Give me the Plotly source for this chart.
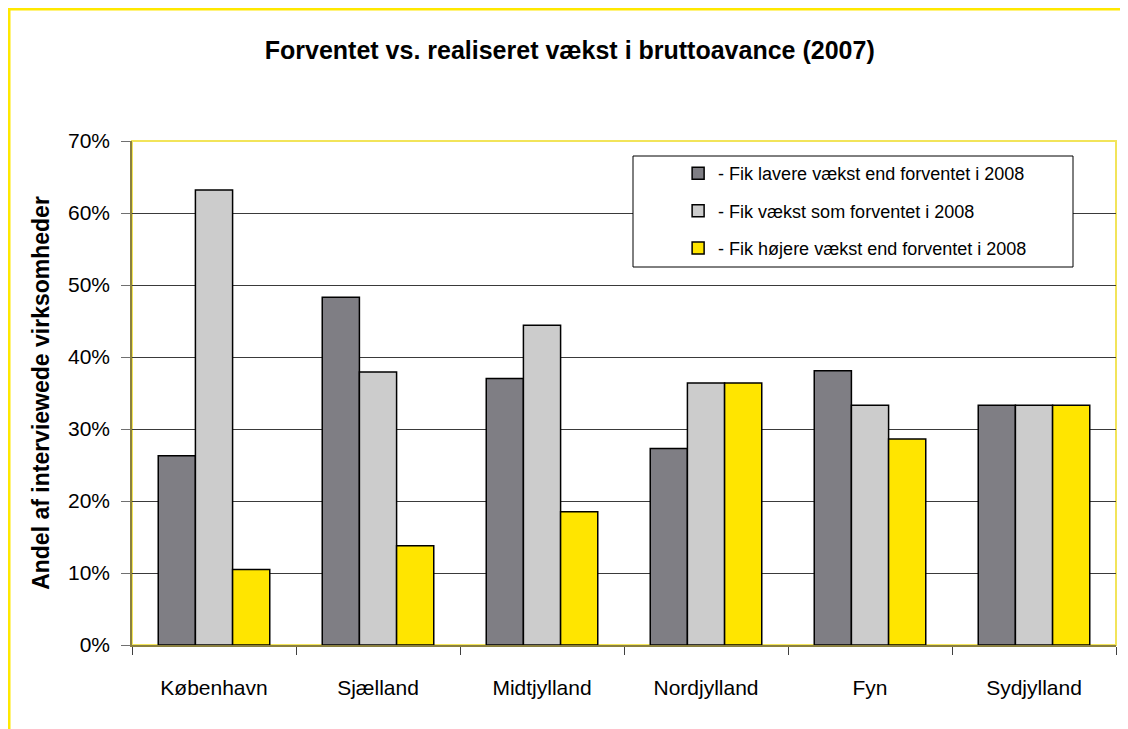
import plotly.graph_objects as go

# data (share in %)
regions = ['København', 'Sjælland', 'Midtjylland', 'Nordjylland', 'Fyn', 'Sydjylland']
lavere = [26.3, 48.3, 37.0, 27.3, 38.1, 33.3]
som_forventet = [63.2, 37.9, 44.4, 36.4, 33.3, 33.3]
hojere = [10.5, 13.8, 18.5, 36.4, 28.6, 33.3]
series_names = ['- Fik lavere vækst end forventet i 2008',
                '- Fik vækst som forventet i 2008',
                '- Fik højere vækst end forventet i 2008']
y_ticks = [0, 10, 20, 30, 40, 50, 60, 70]

colors = ['#7F7E84', '#CCCCCC', '#FFE500']
sans = 'Liberation Sans, Arial'

# plot area in figure pixels: l=124, r=20, t=133, b=92 -> 984 x 504
L, T, PW, PH = 124, 133, 984, 504

def px(x):  # figure pixel -> paper x
    return (x - L) / PW

def py(y):  # figure pixel -> paper y
    return (T + PH - y) / PH

fig = go.Figure()
for name, vals, col in zip(series_names, [lavere, som_forventet, hojere], colors):
    fig.add_trace(go.Bar(
        x=regions, y=vals, name=name, legendgroup=name,
        marker=dict(color=col, line=dict(color='black', width=1.5)),
    ))

fig.update_layout(
    width=1128, height=729,
    margin=dict(l=124, r=20, t=133, b=92),
    paper_bgcolor='white', plot_bgcolor='white',
    barmode='group', bargap=0.32, bargroupgap=0,
    title=dict(text='<b>Forventet vs. realiseret vækst i bruttoavance (2007)</b>',
               font=dict(family=sans, size=25, color='black'),
               x=0.498, xref='container', xanchor='center',
               y=1 - 42 / 729, yref='container', yanchor='middle'),
    legend=dict(x=0.555, y=0.972, xanchor='left', yanchor='top',
                bgcolor='rgba(0,0,0,0)', borderwidth=0,
                font=dict(family=sans, size=18, color='black'),
                tracegroupgap=11),
    showlegend=True,
)

fig.update_yaxes(
    range=[0, 70], tickvals=y_ticks, ticktext=[f'{v}%' for v in y_ticks],
    showgrid=True, gridcolor='#3A3A3A', gridwidth=1, zeroline=False,
    showline=True, linecolor='#8A8040', linewidth=1.5,
    ticks='outside', ticklen=9, tickcolor='#707070',
    tickfont=dict(family=sans, size=21, color='black'),
    ticklabelstandoff=7,
    title=dict(text='<b>Andel af interviewede virksomheder</b>',
               font=dict(family=sans, size=23, color='black'),
               standoff=12),
)
fig.update_xaxes(
    showline=True, linecolor='#8A8040', linewidth=1.5,
    ticks='outside', tickson='boundaries', ticklen=8, tickcolor='#404040',
    tickfont=dict(family=sans, size=21, color='black'),
    ticklabelstandoff=23,
)

# yellow plot-area border and outer chart frame
fig.add_shape(type='rect', xref='paper', yref='paper', x0=0, x1=1, y0=0, y1=1,
              line=dict(color='#F2E45A', width=2), layer='below')
fig.add_shape(type='rect', xref='paper', yref='paper',
              x0=px(1), x1=px(1135), y0=py(760), y1=py(1),
              line=dict(color='#FFE800', width=3))
# legend box
fig.add_shape(type='rect', xref='paper', yref='paper',
              x0=px(625), x1=px(1065), y0=py(259), y1=py(148),
              line=dict(color='black', width=1), fillcolor='white', layer='above')

fig.write_html('out.html')
